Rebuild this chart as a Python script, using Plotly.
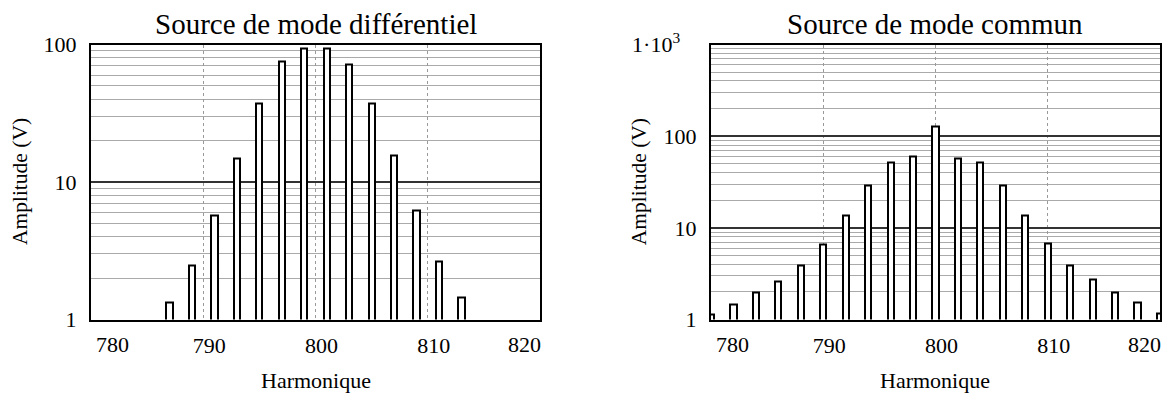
import plotly.graph_objects as go
from plotly.subplots import make_subplots

# Source de mode différentiel: odd harmonics around 800
diff_harm = [787, 789, 791, 793, 795, 797, 799, 801, 803, 805, 807, 809, 811, 813]
diff_amp = [1.34, 2.47, 5.7, 14.8, 37.2, 74.8, 93.5, 93.5, 71.5, 37.2, 15.5, 6.2, 2.66, 1.45]

# Source de mode commun: even harmonics around 800
comm_harm = [780, 782, 784, 786, 788, 790, 792, 794, 796, 798, 800,
             802, 804, 806, 808, 810, 812, 814, 816, 818, 820]
comm_amp = [1.12, 1.47, 1.96, 2.6, 3.87, 6.5, 13.6, 29.1, 51.0, 60.4, 128.6,
            56.9, 51.0, 29.1, 13.6, 6.8, 3.87, 2.74, 1.96, 1.53, 1.16]

x_range = [780, 820]
x_ticks = [790, 800, 810]          # inner ticks; the range ends are labelled inside the frame
diff_yticks = [1, 10, 100]
comm_yticks = [1, 10, 100, 1000]
comm_yticktext = ["1", "10", "100", "1\u00b710<sup>3</sup>" + "\u00a0" * 3]

FONT = "Liberation Serif, Times New Roman, serif"

# the page body has an 8px margin: the figure starts 8px in and runs past the right edge
fig = make_subplots(rows=1, cols=2)

bar_style = dict(marker=dict(color="white", line=dict(color="black", width=2)),
                 width=0.55, showlegend=False)
fig.add_trace(go.Bar(x=diff_harm, y=diff_amp, **bar_style), row=1, col=1)
fig.add_trace(go.Bar(x=comm_harm, y=comm_amp, **bar_style), row=1, col=2)

fig.update_xaxes(range=x_range, tickvals=x_ticks,
                 showline=True, mirror=True, linecolor="black", linewidth=2,
                 showgrid=True, gridcolor="#999", griddash="dot", gridwidth=1,
                 zeroline=False, ticks="", ticklabelstandoff=5, ticklabelshift=6,
                 automargin=False, tickfont=dict(size=22, color="black"))
fig.update_yaxes(type="log", showline=True, mirror=True, linecolor="black",
                 linewidth=2, showgrid=True, gridcolor="#333", gridwidth=1.5,
                 ticks="", ticklabelstandoff=8, automargin=False,
                 tickfont=dict(size=22, color="black"),
                 minor=dict(dtick="D1", showgrid=True, gridcolor="#aaa",
                            gridwidth=1, ticks=""))
fig.update_xaxes(domain=[0.06917, 0.44333], row=1, col=1)
fig.update_xaxes(domain=[0.58583, 0.96], row=1, col=2)
fig.update_yaxes(domain=[0.1930, 0.9054], range=[0, 2.0], tickvals=diff_yticks,
                 row=1, col=1)
fig.update_yaxes(domain=[0.1930, 0.9054], range=[0, 3], tickvals=comm_yticks,
                 ticktext=comm_yticktext, row=1, col=2)

titles = [("x", "y", "Source de mode différentiel", -0.158),
          ("x2", "y2", "Source de mode commun", -0.160)]
for xr, yr, title, ytitle_x in titles:
    fig.add_annotation(text=title, x=0.5, y=1.0, xref=f"{xr} domain",
                       yref=f"{yr} domain", xanchor="center", yanchor="bottom",
                       yshift=3, showarrow=False, font=dict(size=29, color="black"))
    fig.add_annotation(text="Harmonique", x=0.5, y=0.0337, xref=f"{xr} domain",
                       yref="paper", xanchor="center", yanchor="middle",
                       showarrow=False, font=dict(size=22, color="black"))
    fig.add_annotation(text="Amplitude (V)", x=ytitle_x, y=0.5, xref=f"{xr} domain",
                       yref=f"{yr} domain", xanchor="center", yanchor="middle",
                       textangle=-90, showarrow=False,
                       font=dict(size=21.5, color="black"))
    # labels of the range ends, kept inside the frame
    for pos, anchor, shift in [(0, "left", 3), (1, "right", 3)]:
        fig.add_annotation(text=str(x_range[pos]), x=pos, y=0, xref=f"{xr} domain",
                           yref=f"{yr} domain", xanchor=anchor, yanchor="top",
                           xshift=shift, yshift=-10, showarrow=False,
                           font=dict(size=22, color="black"))

fig.update_layout(width=1200, height=386, margin=dict(l=0, r=0, t=0, b=0),
                  paper_bgcolor="white", plot_bgcolor="white", bargap=0,
                  font=dict(family=FONT, color="black"))

fig.write_html("out.html")
